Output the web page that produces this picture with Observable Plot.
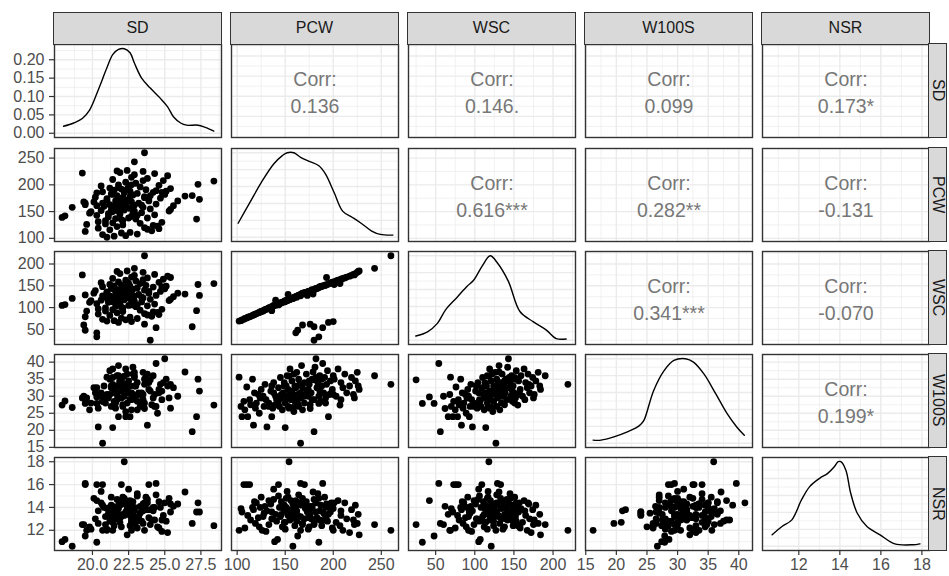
<!DOCTYPE html>
<html><head><meta charset="utf-8">
<script src="https://cdn.jsdelivr.net/npm/d3@7"></script>
<script src="https://cdn.jsdelivr.net/npm/@observablehq/plot@0.6"></script>
<style>
body{margin:0;background:#fff;font-family:"Liberation Sans",Arial,Helvetica,sans-serif;}
#chart{position:relative;width:949px;height:576px;overflow:hidden;background:#fff;}
.strip{position:absolute;box-sizing:border-box;background:#D9D9D9;border:1.5px solid #333;color:#1A1A1A;font-size:16px;display:flex;align-items:center;justify-content:center;}
.strip.right span{writing-mode:vertical-rl;}
.cell{position:absolute;}
</style></head><body><div id="chart"></div>
<script>
// ---- variables (strip labels)
const variables = ["SD","PCW","WSC","W100S","NSR"];

// ---- observations (one entry per plant, same order in every array)
const SD = [21.0,21.5,22.3,20.7,23.1,22.0,22.6,19.5,24.1,21.2,
23.8,20.4,23.6,21.7,24.5,22.1,19.6,23.3,21.4,24.8,
20.4,20.9,27.2,22.0,21.6,17.9,23.8,21.1,18.1,22.7,
20.3,24.3,21.9,22.8,19.8,23.4,21.3,21.4,25.3,21.7,
20.6,22.2,22.2,21.4,24.0,22.6,18.6,21.9,23.5,22.3,
20.8,21.5,25.6,22.9,21.2,24.4,22.0,19.5,23.2,21.8,
22.7,20.7,23.9,21.6,27.4,22.4,21.0,24.7,22.1,26.4,
20.2,23.6,21.7,22.8,25.0,21.3,23.1,22.2,24.2,20.7,
22.6,21.5,23.7,22.0,25.4,21.2,23.3,22.5,24.6,27.3,
21.8,23.0,22.3,28.4,24.9,21.4,23.8,22.7,19.3,25.2,
22.9,24.3,21.9,23.5,22.4,22.9,23.6,21.1,22.9,21.6,
23.4,22.3,21.0,23.9,22.6,21.4,24.8,22.1,20.9,23.1,
21.9,22.8,20.1,22.4,25.9,25.4,24.6,23.0,21.3,22.0,
20.6,23.5,21.7,25.1,19.9,24.2,22.5,
24.0,20.3,20.3,19.5,26.9,19.4,23.6,24.4,21.8,22.7];
const PCW = [102,104,105,107,108,110,111,113,114,116,
117,119,120,122,123,125,126,128,129,130,
131,133,136,135,137,139,138,140,142,141,
143,144,145,146,147,148,149,150,151,152,
152,153,154,155,155,156,158,157,158,159,
160,160,161,162,163,164,164,166,166,167,
168,166,170,170,173,172,174,175,176,179,
177,178,180,181,182,183,184,185,186,187,
188,190,191,192,193,194,196,197,199,201,
200,203,205,207,208,210,212,214,222,217,
219,221,223,225,227,243,260,146,151,157,
162,165,171,174,178,182,186,133,127,143,
149,159,168,192,170,154,118,136,153,175,
198,208,226,188,150,124,138,
180,185,161,163,180,168,176,189,195,200];
const WSC = [69,70,72,73,75,76,78,79,80,82,
83,85,86,88,89,91,92,94,95,96,
97,99,93,101,103,105,104,117,107,106,
109,108,110,111,112,113,114,114,116,116,
117,130,118,119,119,120,121,121,122,123,
124,124,125,126,127,128,128,129,130,131,
132,127,133,134,128,135,136,137,138,131,
139,140,141,142,143,144,145,146,147,148,
149,150,151,152,169,153,155,156,158,153,
159,161,163,155,165,167,168,170,175,172,
174,176,178,181,184,190,219,112,115,120,
124,129,134,137,141,144,148,99,92,106,
113,122,133,151,133,119,84,102,117,138,
157,164,183,149,116,90,105,
25,33,42,48,56,60,62,54,66,68];
const W100S = [35.6,27.0,24.0,28.5,26.0,32.7,24.0,29.0,27.5,35.0,
21.5,26.5,28.0,30.5,25.0,32.0,29.5,27.0,33.5,29.0,
21.0,28.0,24.0,31.5,26.5,27.4,34.0,30.0,28.6,29.0,
32.5,27.0,35.5,30.5,26.0,31.0,33.0,20.8,29.5,36.0,
30.0,32.0,35.9,38.0,31.5,29.0,26.7,34.5,30.5,25.5,
33.0,28.5,32.5,37.0,30.5,27.0,35.0,29.5,31.0,39.0,
26.0,16.2,34.0,28.0,31.5,36.5,30.0,33.5,27.5,37.1,
31.0,35.0,29.0,38.5,41.0,32.5,34.0,30.0,36.0,28.5,
33.0,31.0,35.5,29.5,33.5,37.5,30.5,34.5,32.0,35.0,
36.0,30.0,38.0,27.4,34.0,32.5,36.5,31.0,29.5,33.0,
35.5,30.5,34.5,37.0,32.0,36.0,33.5,29.5,33.0,31.5,
28.5,33.5,30.5,32.0,29.0,35.5,31.5,27.0,30.0,28.5,
34.0,36.5,32.5,28.0,30.0,26.5,31.0,33.0,27.0,34.5,
31.0,29.0,33.0,35.0,28.0,29.5,31.0,
34.8,27.9,29.8,27.9,19.6,30.0,26.4,39.6,24.0,30.5];
const NSR = [12.0,13.9,13.6,16.0,12.2,16.0,13.3,16.0,12.9,14.0,
13.8,12.6,14.4,13.1,12.3,14.9,12.0,13.5,14.1,11.9,
13.7,12.5,13.6,14.3,13.0,11.0,14.7,13.4,11.2,12.8,
16.0,14.0,13.2,14.5,12.3,13.9,14.2,12.7,14.8,13.6,
15.4,13.3,18.0,12.9,13.8,14.6,10.6,13.1,14.3,13.5,
14.0,12.4,14.1,13.7,13.3,15.1,14.4,16.1,13.2,14.2,
12.6,12.0,16.0,13.0,13.6,14.5,12.1,14.0,13.4,15.35,
13.0,13.9,14.7,12.9,14.4,13.1,15.2,14.8,13.7,14.2,
12.4,13.5,14.9,13.2,14.3,12.8,14.1,13.6,12.2,14.4,
13.9,12.7,14.6,12.4,13.3,12.0,14.4,13.0,12.5,11.8,
13.8,12.9,14.2,12.6,11.6,12.5,12.0,13.4,14.0,13.7,
12.8,14.3,13.9,13.1,14.1,13.6,12.9,14.6,13.2,15.0,
12.7,13.4,14.8,14.0,14.3,13.6,14.5,13.0,14.9,12.3,
14.4,13.7,13.4,12.8,12.1,14.0,15.6,
12.5,10.95,14.6,11.5,12.6,12.5,14.1,16.1,13.4,12.0];

// ---- density curves on the diagonal
const densSD_x = [18.0,18.7,19.3,19.8,20.4,21.0,21.4,21.8,22.2,22.6,22.9,23.4,24.0,24.7,25.2,25.6,26.1,26.5,27.3,27.8,28.4];
const densSD_y = [0.019,0.028,0.040,0.063,0.118,0.178,0.214,0.228,0.230,0.219,0.191,0.150,0.123,0.095,0.072,0.045,0.028,0.022,0.022,0.016,0.006];
const densPCW_x = [101,113,125,138,147,152,159,166,175,185,192,201,210,220,229,240,249,262];
const densPCW_y = [0.166,0.406,0.646,0.867,0.966,1.0,1.0,0.946,0.898,0.846,0.747,0.526,0.306,0.234,0.166,0.074,0.034,0.026];
const densWSC_x = [24.7,39.6,52.2,62.7,77.5,90.2,98.5,109.6,119.7,128.5,142.8,157.7,174.5,191.5,204.1,216.8];
const densWSC_y = [0.05,0.10,0.20,0.36,0.51,0.64,0.71,0.88,1.0,0.92,0.70,0.34,0.22,0.12,0.02,0.015];
const densW100S_x = [16.2,17.5,19.6,21.8,23.4,24.0,24.5,26.1,27.8,29.4,31.3,32.6,34.3,36.2,38.1,39.7,40.9];
const densW100S_y = [0.037,0.037,0.075,0.134,0.19,0.225,0.27,0.625,0.86,0.98,1.0,0.96,0.82,0.59,0.35,0.19,0.095];
const densNSR_x = [10.7,11.18,11.66,12.13,12.53,13.01,13.41,13.73,13.92,14.05,14.29,14.53,14.85,15.32,15.96,16.68,17.55,17.9];
const densNSR_y = [0.135,0.233,0.312,0.547,0.704,0.802,0.861,0.939,0.998,0.998,0.9,0.626,0.39,0.233,0.135,0.029,0.018,0.029];

// ---- correlation labels (upper triangle)
const corrRow = [0,0,0,0,1,1,1,2,2,3];
const corrCol = [1,2,3,4,2,3,4,3,4,4];
const corrText = ["0.136","0.146.","0.099","0.173*","0.616***","0.282**","-0.131","0.341***","-0.070","0.199*"];

// ---- tick labels
const ticksSD = [20,22.5,25,27.5];
const ticksPCW = [100,150,200,250];
const ticksWSC = [50,100,150,200];
const ticksW100S = [15,20,25,30,35,40];
const ticksNSR = [12,14,16,18];
const ticksDensitySD = [0,0.05,0.10,0.15,0.20];

// ---------------------------------------------------------------
const cols = {SD, PCW, WSC, W100S, NSR};
const records = SD.map((_, k) => ({SD: SD[k], PCW: PCW[k], WSC: WSC[k], W100S: W100S[k], NSR: NSR[k]}));
const densities = {
  SD: {x: densSD_x, y: densSD_y}, PCW: {x: densPCW_x, y: densPCW_y}, WSC: {x: densWSC_x, y: densWSC_y},
  W100S: {x: densW100S_x, y: densW100S_y}, NSR: {x: densNSR_x, y: densNSR_y}
};
const tickSets = {SD: ticksSD, PCW: ticksPCW, WSC: ticksWSC, W100S: ticksW100S, NSR: ticksNSR};
const fmts = {SD: d3.format(".1f"), PCW: d3.format("d"), WSC: d3.format("d"), W100S: d3.format("d"), NSR: d3.format("d")};
const pad = ([a, b]) => { const p = (b - a) * 0.05; return [a - p, b + p]; };
const domains = Object.fromEntries(variables.map(v => [v, pad(d3.extent(cols[v]))]));
const inDom = (t, d) => t.filter(v => v >= d[0] - 1e-9 && v <= d[1] + 1e-9);
const minors = (t, d) => { const s = t[1] - t[0]; return inDom([t[0] - s / 2, ...t.map(v => v + s / 2)], d); };

const W = 167, H = 93;
const colX = [54, 231, 408, 585, 762];
const rowY = [44, 148, 251, 354, 457];
const FONT = '"Liberation Sans", Arial, Helvetica, sans-serif';
const chart = document.getElementById("chart");

for (let i = 0; i < 5; i++) for (let j = 0; j < 5; j++) {
  const vx = variables[j], vy = variables[i];
  const mL = j === 0 ? 54 : 2, mB = i === 4 ? 30 : 2, mT = 2, mR = 2;
  const xDom = domains[vx];
  const xTicks = inDom(tickSets[vx], xDom);
  let yDom, yTicks, yFmt;
  const content = [];
  if (i === j) {
    const dens = densities[vx];
    const pts = dens.x.map((x, k) => ({x, y: dens.y[k]}));
    const mx = d3.max(dens.y);
    yDom = [-0.05 * mx, 1.05 * mx];
    yTicks = i === 0 ? ticksDensitySD : d3.ticks(0, mx, 4);
    yFmt = d3.format(".2f");
    content.push(Plot.line(pts, {x: "x", y: "y", stroke: "black", strokeWidth: 1.4, curve: "catmull-rom"}));
  } else if (i > j) {
    yDom = domains[vy]; yTicks = tickSets[vy]; yFmt = fmts[vy];
    content.push(Plot.dot(records, {x: vx, y: vy, r: 3.4, fill: "black", stroke: "none"}));
  } else {
    yDom = domains[vy]; yTicks = tickSets[vy]; yFmt = fmts[vy];
    const k = corrRow.findIndex((r, n) => r === i && corrCol[n] === j);
    content.push(Plot.text(["Corr:"], {text: d => d, frameAnchor: "middle", dy: -11, fontSize: 19.5, fill: "#777777"}));
    content.push(Plot.text([corrText[k]], {text: d => d, frameAnchor: "middle", dy: 16, fontSize: 19.5, fill: "#777777"}));
  }
  yTicks = inDom(yTicks, yDom);
  const marks = [
    Plot.frame({fill: "white"}),
    Plot.ruleX(minors(tickSets[vx], xDom), {stroke: "#EBEBEB", strokeWidth: 0.7}),
    Plot.ruleY(minors(yTicks.length > 1 ? yTicks : [0, 1], yDom), {stroke: "#EBEBEB", strokeWidth: 0.7}),
    Plot.ruleX(xTicks, {stroke: "#EBEBEB", strokeWidth: 1.4}),
    Plot.ruleY(yTicks, {stroke: "#EBEBEB", strokeWidth: 1.4}),
    ...content,
    Plot.frame({stroke: "#333333", strokeWidth: 1.4})
  ];
  if (j === 0) marks.push(Plot.axisY(yTicks, {anchor: "left", tickSize: 5, tickPadding: 5, tickFormat: yFmt, fontSize: 16, stroke: "#333333", strokeWidth: 1.2, fill: "#4D4D4D", label: null}));
  if (i === 4) marks.push(Plot.axisX(xTicks, {anchor: "bottom", tickSize: 5, tickPadding: 3, tickFormat: fmts[vx], fontSize: 16, stroke: "#333333", strokeWidth: 1.2, fill: "#4D4D4D", label: null}));
  const svg = Plot.plot({
    width: W + mL + mR, height: H + mT + mB,
    marginLeft: mL, marginRight: mR, marginTop: mT, marginBottom: mB,
    style: {background: "transparent", color: "#4D4D4D", fontFamily: FONT, overflow: "visible"},
    x: {domain: xDom, axis: null},
    y: {domain: yDom, axis: null},
    marks
  });
  svg.classList.add("cell");
  svg.style.left = (colX[j] - mL) + "px";
  svg.style.top = (rowY[i] - mT) + "px";
  chart.appendChild(svg);
}

// strips
variables.forEach((v, j) => {
  const d = document.createElement("div");
  d.className = "strip";
  d.style.left = (colX[j] - 0.75) + "px"; d.style.top = "12px";
  d.style.width = (W + 1.5) + "px"; d.style.height = (rowY[0] - 12 + 0.75) + "px";
  d.textContent = v;
  chart.appendChild(d);
});
variables.forEach((v, i) => {
  const d = document.createElement("div");
  d.className = "strip right";
  d.style.left = (colX[4] + W - 0.75) + "px"; d.style.top = (rowY[i] - 0.75) + "px";
  d.style.width = "19px"; d.style.height = (H + 1.5) + "px";
  const s = document.createElement("span"); s.textContent = v; d.appendChild(s);
  chart.appendChild(d);
});
</script></body></html>
